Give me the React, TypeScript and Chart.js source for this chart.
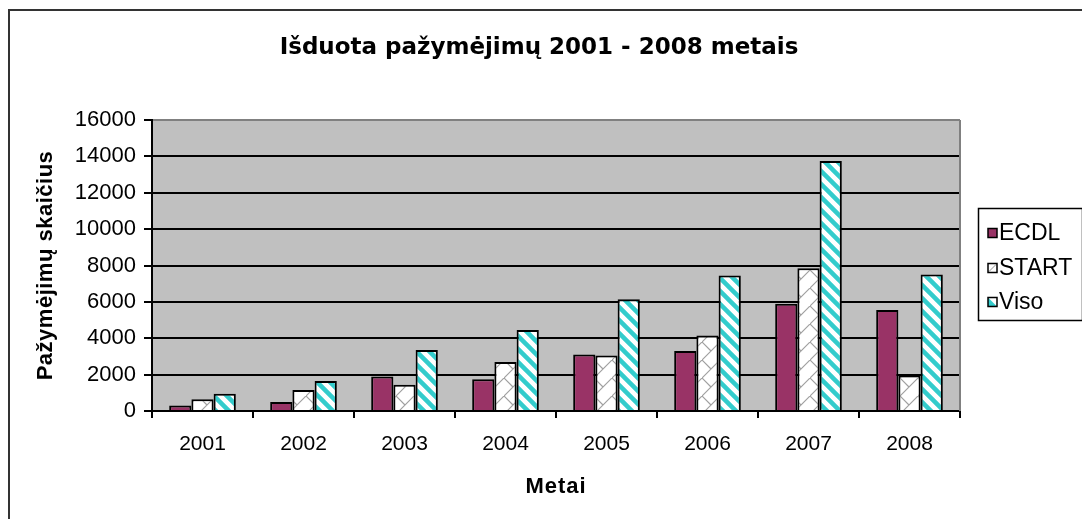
import React, { useEffect, useRef } from "react";
import { Chart, registerables } from "chart.js";

Chart.register(...registerables);

// Data
const years = ["2001", "2002", "2003", "2004", "2005", "2006", "2007", "2008"];
const ecdl = [300, 500, 1900, 1750, 3100, 3300, 5900, 5550];
const start = [650, 1150, 1450, 2700, 3050, 4150, 7850, 1950];
const viso = [950, 1650, 3350, 4450, 6150, 7450, 13750, 7500];
const seriesNames = ["ECDL", "START", "Viso"];

const chartTitle = "Išduota pažymėjimų 2001 - 2008 metais";
const yAxisTitle = "Pažymėjimų skaičius";
const xAxisTitle = "Metai";
const yMin = 0;
const yMax = 16000;
const yStep = 2000;

const MAROON = "#993366";
const CYAN = "#33cccc";
const PLOT_BG = "#c0c0c0";
const X_TICK_FONT = { family: "'Liberation Sans', Arial, sans-serif", size: 21 };
const Y_TICK_FONT = { family: "'Liberation Sans', Arial, sans-serif", size: 22 };

function makeBrickPattern(ctx: CanvasRenderingContext2D): CanvasPattern {
  const s = 18;
  const c = document.createElement("canvas");
  c.width = s;
  c.height = s;
  const g = c.getContext("2d")!;
  g.fillStyle = "#ffffff";
  g.fillRect(0, 0, s, s);
  g.strokeStyle = "#a0a0a0";
  g.lineWidth = 1.2;
  g.beginPath();
  g.moveTo(-1, s + 1);
  g.lineTo(s + 1, -1);
  g.moveTo(0, 0);
  g.lineTo(s / 2, s / 2);
  g.stroke();
  return ctx.createPattern(c, "repeat")!;
}

function makeStripePattern(ctx: CanvasRenderingContext2D): CanvasPattern {
  const s = 13;
  const c = document.createElement("canvas");
  c.width = s;
  c.height = s;
  const g = c.getContext("2d")!;
  g.fillStyle = "#ffffff";
  g.fillRect(0, 0, s, s);
  g.strokeStyle = CYAN;
  g.lineWidth = 4.5;
  g.beginPath();
  for (let k = -1; k <= 1; k++) {
    g.moveTo(k * s - 3, -3);
    g.lineTo(k * s + s + 3, s + 3);
  }
  g.stroke();
  return ctx.createPattern(c, "repeat")!;
}

const decorPlugin = {
  id: "decor",
  beforeDraw(chart: any) {
    const { ctx, chartArea: a } = chart;
    ctx.save();
    ctx.fillStyle = PLOT_BG;
    ctx.fillRect(a.left, a.top, a.right - a.left, a.bottom - a.top);
    ctx.restore();
  },
  beforeDatasetsDraw(chart: any) {
    const { ctx, chartArea: a } = chart;
    ctx.save();
    ctx.strokeStyle = "#808080";
    ctx.lineWidth = 2;
    ctx.beginPath();
    ctx.moveTo(a.right, a.top);
    ctx.lineTo(a.right, a.bottom);
    ctx.stroke();
    ctx.restore();
  },
  afterDraw(chart: any) {
    const { ctx, chartArea: a } = chart;
    ctx.save();

    // outer frame
    ctx.strokeStyle = "#333333";
    ctx.lineWidth = 2;
    ctx.strokeRect(9, 10, 1300, 1300);

    ctx.fillStyle = "#000000";

    // chart title
    ctx.font = "bold 23px 'DejaVu Sans', sans-serif";
    ctx.textAlign = "center";
    ctx.textBaseline = "alphabetic";
    ctx.fillText(chartTitle, 539, 54);

    // axis titles
    ctx.font = "bold 22px 'Liberation Sans', Arial, sans-serif";
    (ctx as any).letterSpacing = "1px";
    ctx.fillText(xAxisTitle, (a.left + a.right) / 2, 493);
    (ctx as any).letterSpacing = "0.5px";
    ctx.save();
    ctx.translate(52, (a.top + a.bottom) / 2);
    ctx.rotate(-Math.PI / 2);
    ctx.fillText(yAxisTitle, 0, 0);
    ctx.restore();
    (ctx as any).letterSpacing = "0px";

    // legend
    const bx = 978.5;
    const by = 208.5;
    const bw = 104;
    const bh = 112;
    ctx.fillStyle = "#ffffff";
    ctx.fillRect(bx, by, bw, bh);
    ctx.strokeStyle = "#000000";
    ctx.lineWidth = 1.5;
    ctx.strokeRect(bx, by, bw, bh);

    const rows = [233, 268, 302];
    const ms = 9;
    const mx = 988;
    ctx.font = "23px 'Liberation Sans', Arial, sans-serif";
    ctx.textAlign = "left";
    ctx.textBaseline = "middle";
    seriesNames.forEach((name, i) => {
      const cy = rows[i];
      const my = cy - ms / 2;
      ctx.fillStyle = "#ffffff";
      ctx.fillRect(mx, my, ms, ms);
      if (i === 0) {
        ctx.fillStyle = MAROON;
        ctx.fillRect(mx, my, ms, ms);
      } else if (i === 1) {
        ctx.strokeStyle = "#909090";
        ctx.lineWidth = 1;
        ctx.beginPath();
        ctx.moveTo(mx + 1, my + ms - 1);
        ctx.lineTo(mx + ms - 1, my + 1);
        ctx.stroke();
      } else {
        ctx.fillStyle = CYAN;
        ctx.beginPath();
        ctx.moveTo(mx, my);
        ctx.lineTo(mx + ms, my + ms);
        ctx.lineTo(mx, my + ms);
        ctx.closePath();
        ctx.fill();
      }
      ctx.strokeStyle = "#000000";
      ctx.lineWidth = 1.5;
      ctx.strokeRect(mx, my, ms, ms);
      ctx.fillStyle = "#000000";
      ctx.fillText(name, 999, cy + 1);
    });

    ctx.restore();
  },
};

export default function App() {
  const canvasRef = useRef<HTMLCanvasElement | null>(null);

  useEffect(() => {
    const canvas = canvasRef.current;
    if (!canvas) return;
    const ctx = canvas.getContext("2d")!;
    const brick = makeBrickPattern(ctx);
    const stripes = makeStripePattern(ctx);

    const chart = new Chart(canvas, {
      type: "bar",
      data: {
        labels: years,
        datasets: [
          { label: seriesNames[0], data: ecdl, backgroundColor: MAROON },
          { label: seriesNames[1], data: start, backgroundColor: brick },
          { label: seriesNames[2], data: viso, backgroundColor: stripes },
        ].map((d) => ({
          ...d,
          borderColor: "#000000",
          borderWidth: 2,
          barPercentage: 1,
          categoryPercentage: 0.66,
        })),
      },
      options: {
        responsive: false,
        animation: false,
        events: [],
        layout: { padding: { top: 120, right: 122, bottom: 0, left: 0 } },
        plugins: {
          legend: { display: false },
          title: { display: false },
          tooltip: { enabled: false },
        },
        scales: {
          x: {
            type: "category",
            afterFit: (scale: any) => {
              scale.height = 108;
            },
            grid: {
              offset: true,
              drawOnChartArea: false,
              drawTicks: true,
              tickLength: 7,
              color: "#000000",
              lineWidth: 2,
            },
            border: { display: true, color: "#000000", width: 2 },
            ticks: {
              color: "#000000",
              font: X_TICK_FONT,
              padding: 14,
              maxRotation: 0,
              autoSkip: false,
            },
          },
          y: {
            min: yMin,
            max: yMax,
            afterFit: (scale: any) => {
              scale.width = 152;
            },
            grid: {
              color: (c: any) => (c.tick && c.tick.value === yMax ? "#808080" : "#000000"),
              lineWidth: 2,
              tickLength: 8,
              tickColor: "#000000",
              drawTicks: true,
            },
            border: { display: true, color: "#000000", width: 2 },
            ticks: {
              stepSize: yStep,
              color: "#000000",
              font: Y_TICK_FONT,
              padding: 8,
              callback: (v: any) => String(v),
            },
          },
        },
      },
      plugins: [decorPlugin],
    });

    return () => chart.destroy();
  }, []);

  return (
    <div style={{ position: "absolute", left: 0, top: 0, width: 1082, height: 519, background: "#ffffff" }}>
      <canvas ref={canvasRef} width={1082} height={519} style={{ display: "block" }} />
    </div>
  );
}
